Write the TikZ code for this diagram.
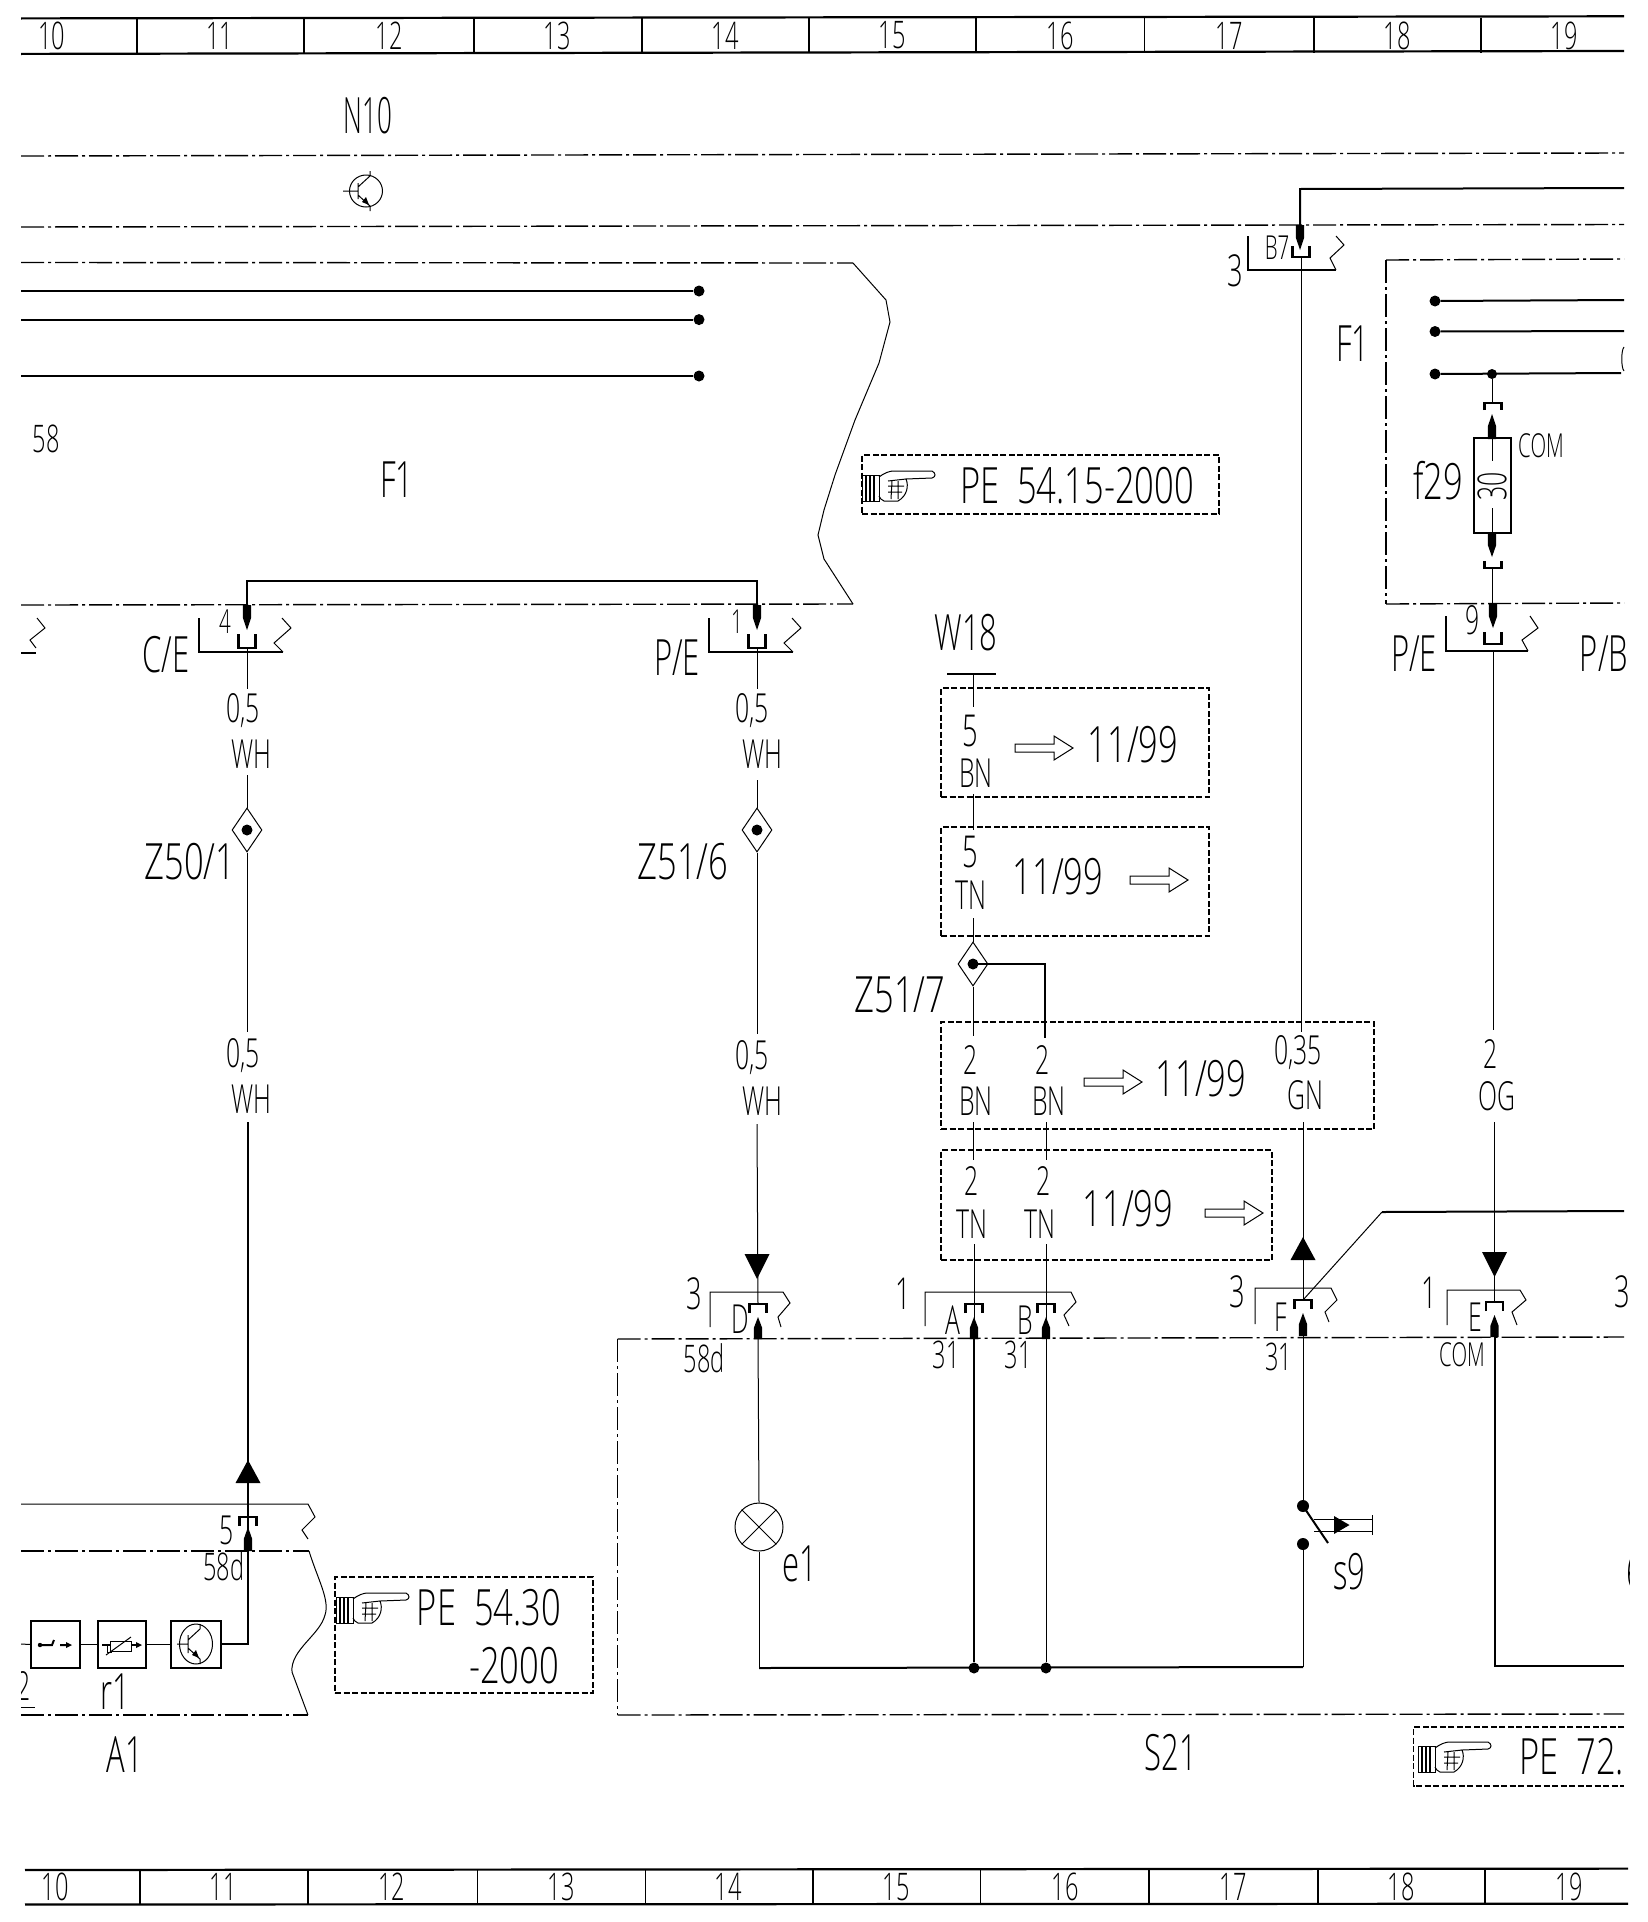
\documentclass[tikz,border=0pt]{standalone}
\usepackage{fontspec}
\usetikzlibrary{shapes.geometric}
\newfontfamily\cad[FakeStretch=0.62]{Open Sans Light}
\newfontfamily\cadw[FakeStretch=0.69]{Open Sans Light}
\newfontfamily\cadn[FakeStretch=0.52]{Open Sans Light}
\newcommand\wpin[3]{\fill ({#1-4.2},#3) -- ({#1-4.2},{(#2+#3)/2}) -- (#1,#2) -- ({#1+4.2},{(#2+#3)/2}) -- ({#1+4.2},#3) -- cycle;}
\newcommand\wsock[3]{\draw[line width=2.6pt] ({#1-8.5},#2) -- ({#1-8.5},#3) -- ({#1+8.5},#3) -- ({#1+8.5},#2);}
\tikzset{
  thinw/.style={line width=1pt},
  thickw/.style={line width=2pt},
  ruler/.style={line width=2.2pt},
  dd/.style={line width=1.4pt,dash pattern=on 23pt off 4pt on 3pt off 4pt},
  dbox/.style={line width=1.3pt,dash pattern=on 6pt off 2.5pt},
  lab/.style={inner sep=0pt,font=\cadw\fontsize{50}{50}\selectfont},
  labq/.style={inner sep=0pt,font=\cad\fontsize{50}{50}\selectfont},
  labn/.style={inner sep=0pt,font=\cadn\fontsize{50}{50}\selectfont},
  labm/.style={inner sep=0pt,font=\cad\fontsize{40}{40}\selectfont},
  labr/.style={inner sep=0pt,font=\cad\fontsize{38}{38}\selectfont},
  labs/.style={inner sep=0pt,font=\cad\fontsize{33}{33}\selectfont},
  lab3/.style={inner sep=0pt,font=\cad\fontsize{44}{44}\selectfont},
  dotn/.style={circle,fill=black,inner sep=0pt,minimum size=11pt},
  junc/.style={diamond,draw,thinw,inner sep=0pt,shape aspect=0.8,minimum width=30pt,minimum height=44pt},
  hollow/.pic={\draw[thinw] (0,-4) -- (39,-4) -- (39,-12) -- (58,0) -- (39,12) -- (39,4) -- (0,4) -- cycle;},
  hand/.pic={
    \draw[thinw] (0,-11) rectangle (17,15);
    \foreach \q in {4,8,12}{\draw[line width=1.6pt] (\q,-11) -- (\q,15);}
    \draw[thinw] (17,-9) .. controls (22,-13) and (28,-15) .. (31,-15) -- (70,-15) .. controls (74,-13) and (74,-9) .. (70,-8)
      -- (44,-7) .. controls (47,0) and (45,10) .. (36,15) -- (22,15) .. controls (19,14) and (18,12) .. (17,10);
    \draw[thinw] (26,-5) -- (44,-7) (26,0) -- (42,0) (26,6) -- (40,6) (30,-5) -- (29,13) (36,-5) -- (36,13);
  },
  tran/.pic={
    \draw[thinw] (0,0) ellipse (16.5 and 16);
    \draw[thinw] (-23,0) -- (-8,0) (-8,-8) -- (-8,8) (-8,-4) -- (4,-15) -- (4,-20) (-8,4) -- (4,15) -- (4,20);
    \fill (3,14) -- (-4,11) -- (0,6) -- cycle;
  },
}
\begin{document}
\begin{tikzpicture}[x=1pt,y=-1pt]
\useasboundingbox (0,0) rectangle (1648,1922);
\fill[white] (0,0) rectangle (1648,1922);
\begin{scope}
\clip (21,0) rectangle (1629,1922);

% ---- top ruler
\draw[ruler] (21,18.4) -- (1624,16.3);
\draw[ruler] (21,53.9) -- (1624,51);
\foreach \q/\w in {136.6/1.8,303.7/1.8,474/1.8,642/1.8,809/1.8,976/1.2,1144.5/1.2,1314/1.2,1481/1.2}
  \draw[line width=\w pt] (\q,17.5) -- (\q,53);
\foreach \q/\t/\n in {51.5/10/ta,219.7/11/tb,389/12/tc,557/13/td,725/14/te,892/15/tf,1060/16/tg,1229/17/th,1397/18/ti,1564/19/tj}
  \node[labr] (\n) at (\q,35.5) {\t};

% ---- bottom ruler
\draw[ruler] (25,1870) -- (1628,1868.6);
\draw[ruler] (25,1904.5) -- (1628,1903.7);
\foreach \q/\w in {140/1.2,308/1.8,477/1,645/1,813/1.2,980.6/1.2,1149/1.2,1318/1.8,1485/1.8}
  \draw[line width=\w pt] (\q,1869.5) -- (\q,1904);
\foreach \q/\t/\n in {55/10/ba,223/11/bb,391.5/12/bc,561/13/bd,728/14/be,896/15/bf,1065/16/bg,1233/17/bh,1401/18/bi,1569/19/bj}
  \node[labr] (\n) at (\q,1887) {\t};

% ---- N10
\node[labn] (n10) at (368,116) {N10};
\draw[dd] (21,156) -- (1624,153);
\draw[dd] (21,227) -- (1624,224.5);
\pic at (366,191) {tran};

% ---- F1 left
\draw[dd] (21,262.5) -- (853,263);
\draw[thinw] (853,263) -- (886,300) -- (890,322) -- (879,363) -- (855,420) -- (835,475) -- (824,510) -- (818,535) -- (824,559) -- (853,604);
\draw[dd] (21,605) -- (853,604);
\foreach \q/\n in {291/da,319.6/db,376/dc}{
  \node[dotn] (\n) at (699,\q) {};
  \draw[thickw] (21,\q) -- (\n);
}
\node[labr] (n58) at (46,439) {58};
\node[labq] (nf1) at (397,480) {F1};

% connectors 4 and 1
\coordinate (c4) at (247,605);
\coordinate (c1) at (757,605);
\draw[thickw] (c4) -- (247,581) -- (757,581) -- (c1);
\wpin{247}{630}{605}\wpin{757}{630}{605}
\wsock{247}{634}{648}\wsock{757}{634}{648}
\draw[thickw] (199,618) -- (199,652) -- (283,652);
\draw[thinw] (283,652) -- (274,643) -- (291,628) -- (282,618);
\draw[thickw] (709,618) -- (709,652) -- (793,652);
\draw[thinw] (793,652) -- (784,643) -- (801,628) -- (792,618);
\draw[thinw] (37,618) -- (45,628) -- (30,640) -- (36,648);
\draw[thickw] (21,653) -- (36,653);
\node[labs] (l4) at (225,622) {4};
\node[labs] (l1) at (737,622) {1};
\node[labq] (lce) at (166,655) {C/E};
\node[labq] (lpe) at (677,658) {P/E};

% wire Z50/1
\node[labm] (wa1) at (243,711) {0,5};
\node[labm] (wa2) at (251,754) {WH};
\node[junc] (za) at (247,830) {};
\node[dotn] at (za.center) {};
\node[lab] (lza) at (190,862) {Z50/1};
\node[labm] (wa3) at (243,1056) {0,5};
\node[labm] (wa4) at (251,1099) {WH};
\draw[thinw] (247,648) -- (247,689);
\draw[thinw] (247,775) -- (za.north);
\draw[thinw] (za.south) -- (247,1032);
\draw[thickw] (248,1122) -- (248,1644) -- (221,1644);
\fill (248,1460) -- (260.5,1483) -- (235.5,1483) -- cycle;
\wsock{248}{1526}{1517}
\wpin{248}{1527}{1551}

% wire Z51/6
\node[labm] (wb1) at (752,711) {0,5};
\node[labm] (wb2) at (762,754) {WH};
\node[junc] (zb) at (757,830) {};
\node[dotn] at (zb.center) {};
\node[lab] (lzb) at (683,862) {Z51/6};
\node[labm] (wb3) at (752,1058) {0,5};
\node[labm] (wb4) at (762,1101) {WH};
\draw[thinw] (757,648) -- (757,689);
\draw[thinw] (757,780) -- (zb.north);
\draw[thinw] (zb.south) -- (757,1034);
\draw[thinw] (757,1124) -- (758,1304);
\fill (757,1279) -- (769.5,1254) -- (744.5,1254) -- cycle;

% A1
\draw[thinw] (21,1504) -- (308,1504) -- (315,1517) -- (302,1530) -- (308,1539);
\draw[dd] (21,1551) -- (309,1551);
\draw[thinw] (309,1551) .. controls (318,1580) and (330,1600) .. (325,1615) .. controls (320,1635) and (290,1650) .. (292,1672) -- (308,1715);
\draw[dd] (21,1715) -- (308,1715);
\node[labm] (l5) at (227,1530) {5};
\node[labr] (l58a) at (224,1566) {58d};
\node[draw,thickw,minimum width=48.5pt,minimum height=47pt,inner sep=0] (ba1) at (55.7,1644.5) {};
\node[draw,thickw,minimum width=48pt,minimum height=46.5pt,inner sep=0] (ba2) at (122,1644.5) {};
\node[draw,thickw,minimum width=50pt,minimum height=47pt,inner sep=0] (ba3) at (196,1644.5) {};
\draw[thinw] (21,1644) -- (ba1.west);
\draw[thinw] (ba1.east) -- (ba2.west);
\draw[thinw] (ba2.east) -- (ba3.west);
\draw[thickw] (41,1645) -- (52,1645) -- (54,1640) (60,1645) -- (68,1645);
\fill (40,1645) circle (2.2);
\fill (72,1645) -- (66,1642) -- (66,1648) -- cycle;
\draw[thinw] (110,1641) rectangle (131,1651);
\draw[thinw] (106,1655) -- (131,1637);
\draw[thickw] (102,1645) -- (110,1645) (131,1645) -- (138,1645);
\draw[thinw] (107,1645) -- (107,1652) -- (112,1652);
\fill (142,1645) -- (136,1642) -- (136,1648) -- cycle;
\begin{scope}[shift={(196,1644)}]
  \draw[thinw] (0,0) ellipse (16.5 and 20);
  \draw[thinw] (-19,0) -- (-8,0) (-8,-9) -- (-8,9) (-8,-4) -- (4,-15) -- (4,-20) (-8,4) -- (4,15) -- (4,20);
  \fill (3,14) -- (-4,11) -- (0,6) -- cycle;
\end{scope}
\node[labm] (l2) at (24,1686) {2};
\draw[thinw] (21,1707) -- (35,1707);
\node[labq] (lr1) at (115,1692) {r1};
\node[labq] (la1) at (125,1755) {A1};

% PE 54.30
\node[draw,dbox,minimum width=258pt,minimum height=116pt,inner sep=0] (pea) at (464,1635) {};
\pic at (336,1608) {hand};
\node[lab] (pea1) at (489,1608) {PE\ \ 54.30};
\node[lab] (pea2) at (514,1666) {-2000};

% PE 54.15
\node[draw,dbox,minimum width=357pt,minimum height=59pt,inner sep=0] (peb) at (1040.5,484.5) {};
\pic at (862,486) {hand};
\node[lab] (peb1) at (1077,486) {PE\ \ 54.15-2000};

% ---- S21 frame
\draw[dd] (617.5,1339) -- (1624,1337);
\draw[dd] (617.5,1339) -- (617.5,1715);
\draw[dd] (617.5,1715) -- (1624,1714);
\node[labq] (s21) at (1171,1753) {S21};

% D connector and lamp
\wsock{758}{1313}{1304}
\wpin{758}{1317}{1339}
\draw[thinw] (710,1327) -- (710,1292) -- (783,1292) -- (790,1303) -- (778,1317) -- (781,1327);
\node[lab3] (l3d) at (694,1294) {3};
\node[labm] (ld) at (740,1319) {D};
\node[labr] (l58b) at (704,1358) {58d};
\node[draw,thinw,circle,minimum size=48pt,inner sep=0] (e1) at (759,1527) {};
\draw[thinw] (e1.45) -- (e1.225) (e1.135) -- (e1.315);
\node[labq] (le1) at (800,1564) {e1};
\coordinate (gl) at (759,1668);
\coordinate (gr) at (1303,1667);
\draw[thinw] (758,1339) -- (e1.north);
\draw[thinw] (e1.south) -- (gl);
\draw[thickw] (gl) -- (gr);

% W18 and note boxes
\node[labq] (w18) at (966,633) {W18};
\draw[thickw] (947,674) -- (996,674);
\draw[thinw] (973,674) -- (973,707);
\node[draw,dbox,minimum width=268pt,minimum height=109pt,inner sep=0] (na) at (1075,742.5) {};
\node[lab3] (na1) at (970,731) {5};
\node[labm] (na2) at (976,773) {BN};
\pic at (1015,748) {hollow};
\node[lab] (na3) at (1133,745) {11/99};
\draw[thinw] (973,794) -- (973,830);
\node[draw,dbox,minimum width=268pt,minimum height=109pt,inner sep=0] (nb) at (1075,881.5) {};
\node[lab3] (nb1) at (970,852) {5};
\node[labm] (nb2) at (971,895) {TN};
\node[lab] (nb3) at (1058,877) {11/99};
\pic at (1130,880) {hollow};
\node[junc] (zc) at (973,964) {};
\node[dotn] (zcd) at (zc.center) {};
\node[lab] (lzc) at (900,995) {Z51/7};
\draw[thinw] (973,918) -- (zc.north);
\draw[thinw] (zc.south) -- (973,1036);
\draw[thickw] (zcd.center) -- (1045,964) -- (1045,1038);
\node[draw,dbox,minimum width=433pt,minimum height=107pt,inner sep=0] (nc) at (1157.5,1075.5) {};
\node[labm] (nc1) at (971,1060) {2};
\node[labm] (nc2) at (976,1101) {BN};
\node[labm] (nc3) at (1043,1060) {2};
\node[labm] (nc4) at (1049,1101) {BN};
\pic at (1084,1082) {hollow};
\node[lab] (nc5) at (1201,1079) {11/99};
\node[labm] (nc6) at (1298,1053) {0,35};
\node[labm] (nc7) at (1305,1095) {GN};
\draw[thinw] (973,1122) -- (973,1160);
\draw[thinw] (1046,1122) -- (1046,1160);
\node[draw,dbox,minimum width=331pt,minimum height=110pt,inner sep=0] (nd) at (1106.5,1205) {};
\node[labm] (nd1) at (972,1181) {2};
\node[labm] (nd2) at (972,1224) {TN};
\node[labm] (nd3) at (1044,1181) {2};
\node[labm] (nd4) at (1040,1224) {TN};
\node[lab] (nd5) at (1128,1209) {11/99};
\pic at (1205,1213) {hollow};

% A, B connectors and ground wires
\node[dotn] (ga) at (974,1668) {};
\node[dotn] (gb) at (1046,1668) {};
\draw[thinw] (974,1244) -- (974,1339);
\draw[thinw] (1046,1244) -- (1046,1339);
\draw[thickw] (974,1339) -- (ga);
\draw[thinw] (1046,1339) -- (gb);
\wsock{974}{1313}{1304}\wsock{1046}{1313}{1304}
\wpin{974}{1317}{1339}\wpin{1046}{1317}{1339}
\draw[thinw] (925,1326) -- (925,1292) -- (1071,1292) -- (1076,1302) -- (1064,1315) -- (1069,1326);
\node[lab3] (l1a) at (903,1294) {1};
\node[labm] (la) at (953,1320) {A};
\node[labm] (lb) at (1025,1320) {B};
\node[labr] (l31a) at (946,1355) {31};
\node[labr] (l31b) at (1018,1355) {31};

% B7 / F wire
\draw[thickw] (1624,188) -- (1300,189) -- (1300,225);
\wpin{1300}{250}{225}
\wsock{1301}{246}{257}
\draw[thickw] (1248,236) -- (1248,270) -- (1336,270);
\draw[thinw] (1336,270) -- (1330,258) -- (1344,245) -- (1336,236);
\node[labs] (lb7) at (1277,248) {B7};
\node[lab3] (l3b) at (1235,271) {3};
\draw[thinw] (1301,257) -- (1301,1032);
\draw[thinw] (1303,1122) -- (1303,1300);
\fill (1303,1237) -- (1315.5,1260) -- (1290.5,1260) -- cycle;
\wsock{1303}{1309}{1300}
\wpin{1303}{1313}{1336}
\draw[thinw] (1255,1324) -- (1255,1288) -- (1331,1288) -- (1337,1300) -- (1325,1312) -- (1329,1322);
\draw[thinw] (1303,1300) -- (1382,1212);
\draw[thickw] (1382,1212) -- (1624,1211);
\node[lab3] (l3f) at (1237.5,1292) {3};
\node[labm] (lf) at (1281,1317) {F};
\node[labr] (l31c) at (1278.5,1357) {31};

% switch s9
\node[dotn,minimum size=12pt] (sa) at (1303,1506) {};
\node[dotn,minimum size=12pt] (sb) at (1303,1544) {};
\draw[thinw] (1303,1336) -- (sa);
\draw[thinw] (sb) -- (gr);
\draw[thickw] (sa.center) -- (1328,1543);
\draw[thinw] (1314,1519) -- (1372.5,1519) (1314,1531) -- (1372.5,1531) (1372.5,1515) -- (1372.5,1535);
\fill (1349.5,1525) -- (1334,1516) -- (1334,1534) -- cycle;
\node[labq] (ls9) at (1349.5,1572) {s9};

% ---- F1 right
\draw[dd] (1386,260) -- (1624,259);
\draw[dd] (1386,260) -- (1386,604);
\draw[dd] (1386,604) -- (1624,603);
\node[labq] (nf2) at (1353,344) {F1};
\node[dotn] (ra) at (1435,301) {};
\node[dotn] (rb) at (1435,331.5) {};
\node[dotn] (rc) at (1435,374) {};
\node[dotn,minimum size=10pt] (rd) at (1492,374) {};
\draw[thickw] (ra) -- (1624,300);
\draw[thickw] (rb) -- (1624,331);
\draw[thickw] (rc) -- (1621,373);
\draw[thinw] (1624,347) .. controls (1621,350) and (1621,368) .. (1624,371);
\draw[thinw] (rd) -- (1492,402);
\wsock{1493}{410}{403}
\wpin{1492}{414}{439}
\node[draw,thickw,minimum width=36.5pt,minimum height=95pt,inner sep=0] (f29) at (1492.7,485.5) {};
\draw[thinw] (1492,439) -- (1492,461);
\draw[thinw] (1492,508) -- (1492,533);
\node[labm,rotate=90] (f30) at (1492,486) {30};
\wpin{1492}{557}{533}
\wsock{1493}{561}{568}
\node[lab] (lf29) at (1438,481) {f29};
\node[labs] (lcom) at (1541,446) {COM};
\draw[thinw] (1492,568) -- (1492,604);
\wpin{1493}{628}{604}
\wsock{1493}{632}{644}
\draw[thickw] (1446,616) -- (1446,651) -- (1528,651);
\draw[thinw] (1528,651) -- (1522,640) -- (1538,628) -- (1530,616);
\node[labm] (l9) at (1473,620) {9};
\node[labq] (lpe2) at (1414,654) {P/E};
\node[labq] (lpb) at (1604,654) {P/B};
\draw[thinw] (1493,651) -- (1493,1030);
\node[labm] (og1) at (1491,1054) {2};
\node[labm] (og2) at (1497,1096) {OG};
\draw[thinw] (1494.5,1122) -- (1494.5,1302);
\fill (1494.5,1277) -- (1507,1252) -- (1482,1252) -- cycle;
\wsock{1494.5}{1311}{1302}
\wpin{1494.5}{1315}{1337}
\draw[thinw] (1447,1325) -- (1447,1290) -- (1520,1290) -- (1526,1300) -- (1512,1312) -- (1517,1325);
\node[lab3] (l1e) at (1429,1293) {1};
\node[labm] (le) at (1475.6,1317) {E};
\node[labs] (lcom2) at (1462,1355) {COM};
\node[lab3] (l3e) at (1622,1292) {3};
\draw[thickw] (1495,1337) -- (1495,1666) -- (1624,1666);
\node[labq] (l6) at (1635,1572) {6};

% PE 72
\draw[dbox] (1624,1727) -- (1413.6,1727) -- (1413.6,1786) -- (1624,1786);
\pic at (1418,1757) {hand};
\node[lab,anchor=west] (pec) at (1519,1757) {PE\ \ 72.};
\end{scope}
\end{tikzpicture}
\end{document}
